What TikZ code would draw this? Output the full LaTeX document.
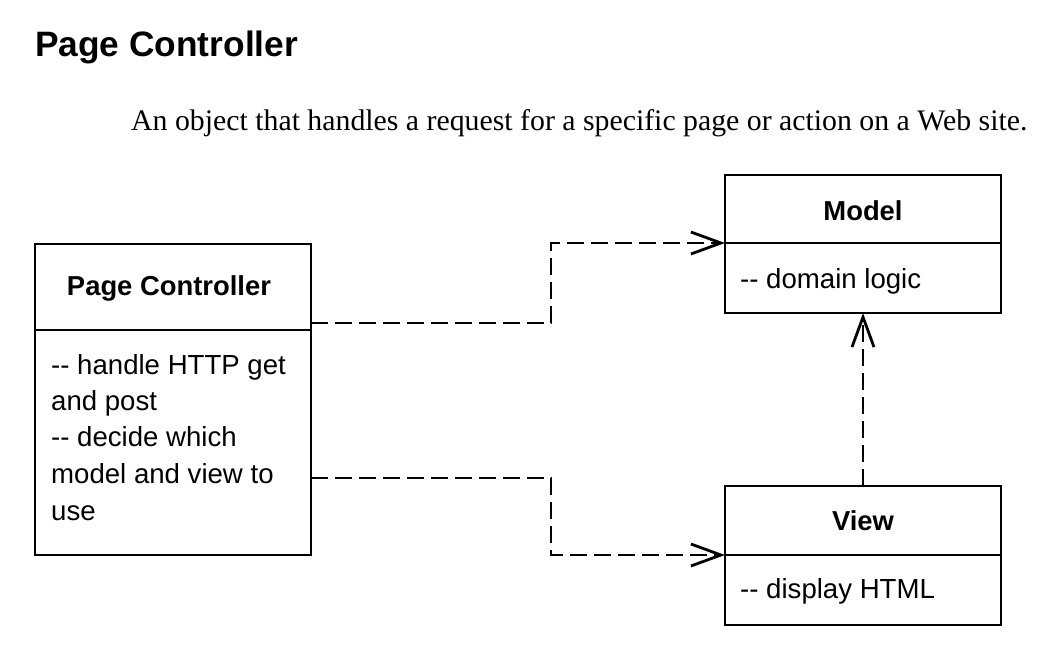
\documentclass[tikz,border=0pt]{standalone}
\usepackage{fontspec}
\setmainfont{Liberation Serif}
\newfontfamily\arial[Ligatures=TeXOff]{Liberation Sans}
\usetikzlibrary{arrows.meta}
\begin{document}
\begin{tikzpicture}[x=1pt,y=-1pt,
  box/.style={draw, line width=2.8pt, rectangle, inner sep=0pt, outer sep=0pt, anchor=north west},
  divider/.style={line width=2.6pt},
  boxtitle/.style={font=\arial\bfseries\fontsize{27.4}{32}\selectfont, inner sep=0pt, anchor=base},
  boxtext/.style={font=\arial\fontsize{27.6}{32}\selectfont, inner sep=0pt, anchor=base west},
  dep/.style={line width=2.8pt, dash pattern=on 17pt off 7pt,
    -{Straight Barb[length=30pt,width=22pt,line width=2.8pt]}}]
\useasboundingbox (0,0) rectangle (1057,655);

% heading
\node[font=\arial\bfseries\fontsize{35.3}{42}\selectfont, inner sep=0pt, anchor=base west] (title) at (35,57) {Page Controller};
\node[font=\fontsize{29.8}{36}\selectfont, inner sep=0pt, anchor=base west] (subtitle) at (131,131) {An object that handles a request for a specific page or action on a Web site.};

% Page Controller class
\node[box, minimum width=276pt, minimum height=311pt] (pc) at (35,244) {};
\draw[divider] (35,330) coordinate (pcdl) -- (311,330) coordinate (pcdr);
\node[boxtitle] (pctitle) at (169,295) {Page Controller};
\node[boxtext] (pc1) at (51,374) {-- handle HTTP get};
\node[boxtext] (pc2) at (51,410) {and post};
\node[boxtext] (pc3) at (51,446) {-- decide which};
\node[boxtext] (pc4) at (51,483) {model and view to};
\node[boxtext] (pc5) at (51,520) {use};

% Model class
\node[box, minimum width=276pt, minimum height=138pt] (model) at (725,175) {};
\draw[divider] (725,243) coordinate (mdl) -- (1001,243) coordinate (mdr);
\node[boxtitle] (mtitle) at (863,220) {Model};
\node[boxtext] (m1) at (740,288) {-- domain logic};

% View class
\node[box, minimum width=276pt, minimum height=139pt] (view) at (725,486) {};
\draw[divider] (725,555) coordinate (vdl) -- (1001,555) coordinate (vdr);
\node[boxtitle] (vtitle) at (863,530) {View};
\node[boxtext] (v1) at (740,598) {-- display HTML};

% connectors
\coordinate (s1) at (311,323);
\coordinate (s2) at (311,478);
\draw[dep] (s1) -- (551,323) -- (551,243) -- (mdl);
\draw[dep] (s2) -- (551,478) -- (551,555) -- (vdl);
\draw[dep] (view.north) -- (model.south);
\end{tikzpicture}
\end{document}
